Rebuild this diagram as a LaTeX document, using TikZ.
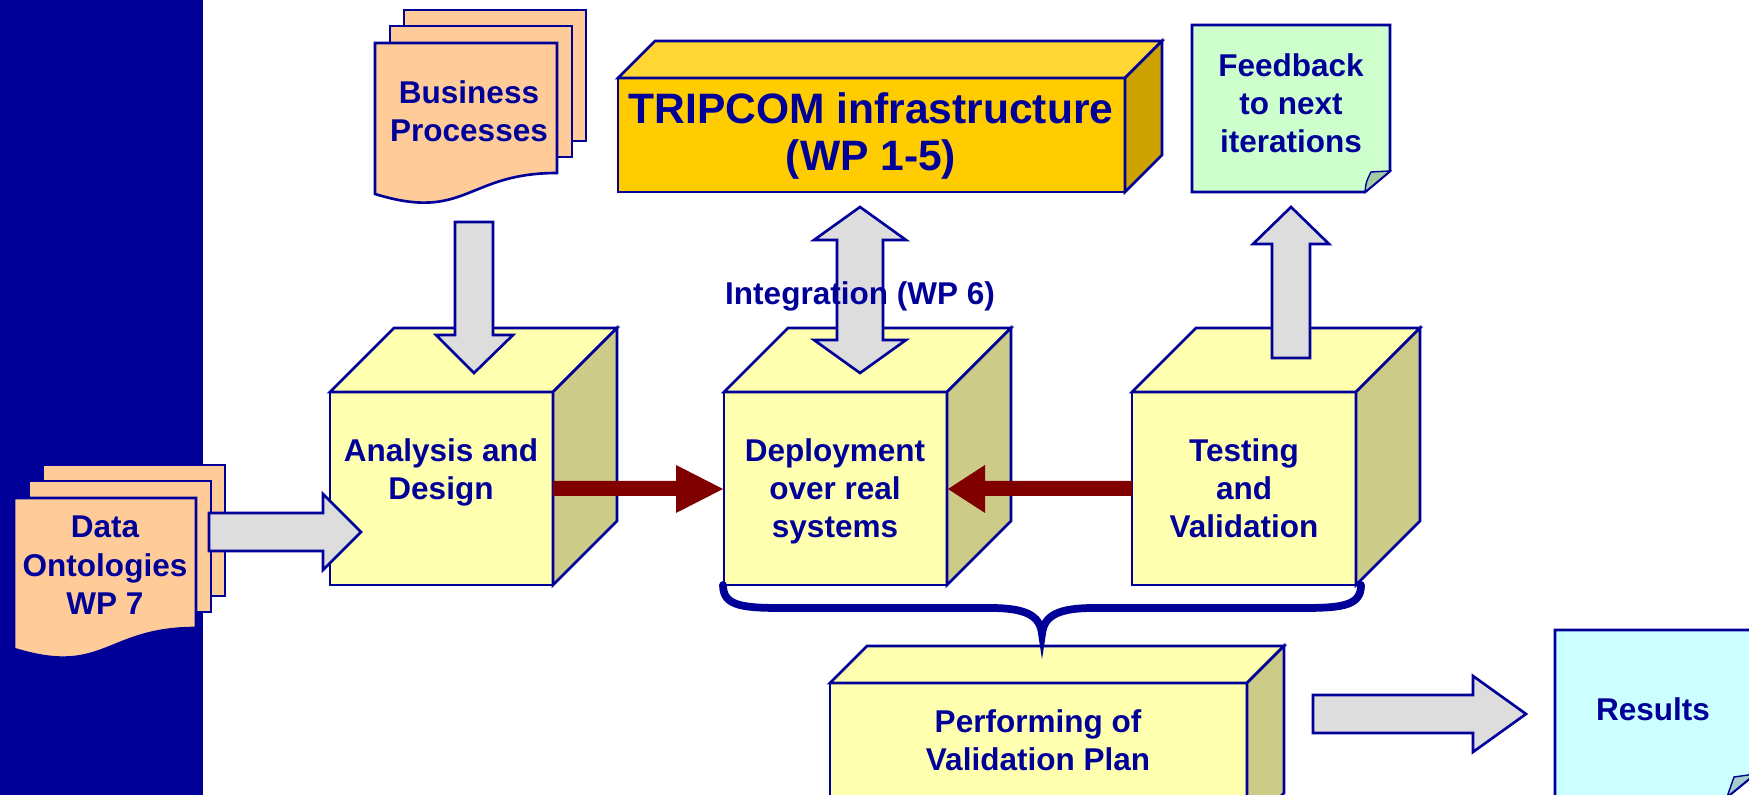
\documentclass[tikz,border=0pt]{standalone}
\usepackage{fontspec}
\setmainfont{Liberation Sans}
\definecolor{bandblue}{RGB}{0,0,153}
\definecolor{faceyellow}{RGB}{255,255,176}
\definecolor{sideyellow}{RGB}{204,204,136}
\definecolor{frontgold}{RGB}{255,204,0}
\definecolor{topgold}{RGB}{255,214,51}
\definecolor{sidegold}{RGB}{204,163,0}
\definecolor{peach}{RGB}{255,204,153}
\definecolor{arrowgrey}{RGB}{221,221,221}
\definecolor{darkred}{RGB}{128,0,0}
\definecolor{notegreen}{RGB}{204,255,204}
\definecolor{foldgreen}{RGB}{163,204,163}
\definecolor{notecyan}{RGB}{204,255,255}
\definecolor{foldcyan}{RGB}{163,204,204}
\newcommand{\solidbox}[8]{%
	\filldraw[fill=#6] (#1,#2) rectangle (#3,#4);
	\filldraw[fill=#7] (#1,#2) -- (#1+#5,#2-#5) -- (#3+#5,#2-#5) -- (#3,#2) -- cycle;
	\filldraw[fill=#8] (#3,#2) -- (#3+#5,#2-#5) -- (#3+#5,#4-#5) -- (#3,#4) -- cycle;}
\newcommand{\docstack}[2]{%
	\filldraw[sheet] (#1+29,#2-33) rectangle (#1+211,#2+98);
	\filldraw[sheet] (#1+15,#2-17) rectangle (#1+197,#2+114);
	\filldraw[sheet] (#1,#2) -- (#1+182,#2) -- (#1+182,#2+130) .. controls (#1+91,#2+130) and (#1+91,#2+179) .. (#1,#2+151) -- cycle;}
\begin{document}
\begin{tikzpicture}[x=0.01cm,y=-0.01cm,line width=0.75pt,color=bandblue,line join=miter,
		sheet/.style={fill=peach},
		blockarr/.style={fill=arrowgrey},
		lbl/.style={font=\bfseries\fontsize{8.96}{10.81}\selectfont,align=center,inner sep=0pt,anchor=north}]
			\useasboundingbox (0,0) rectangle (1749,795);
			\clip (0,0) rectangle (1749,795);
			\fill[bandblue] (0,0) rectangle (203,795);
			\docstack{375}{43}
			\docstack{14}{498}
			\solidbox{618}{78}{1125}{192}{37}{frontgold}{topgold}{sidegold}
			\filldraw[fill=notegreen] (1192,25) -- (1390,25) -- (1390,171) -- (1365,192) -- (1192,192) -- cycle;
			\filldraw[fill=foldgreen,line width=0.4pt] (1365,192) .. controls (1366,182) .. (1371,172) -- (1390,171) -- cycle;
			\solidbox{330}{392}{553}{585}{64}{faceyellow}{faceyellow}{sideyellow}
			\solidbox{724}{392}{947}{585}{64}{faceyellow}{faceyellow}{sideyellow}
			\solidbox{1132}{392}{1356}{585}{64}{faceyellow}{faceyellow}{sideyellow}
			\solidbox{830}{683}{1247}{830}{37}{faceyellow}{faceyellow}{sideyellow}
			\filldraw[fill=notecyan] (1555,630) -- (1765,630) -- (1765,766) -- (1711,810) -- (1555,810) -- cycle;
			\filldraw[fill=foldcyan,line width=0.4pt] (1727,797) -- (1734,777) -- (1755,774) -- cycle;
			\filldraw[blockarr] (209,513) -- (323,513) -- (323,494) -- (361,532) -- (323,570) -- (323,551) -- (209,551) -- cycle;
			\filldraw[blockarr] (455,222) -- (493,222) -- (493,335) -- (513,335) -- (474,373) -- (436,335) -- (455,335) -- cycle;
			\filldraw[blockarr] (860,207) -- (906,240) -- (883,240) -- (883,340) -- (906,340) -- (860,373) -- (814,340) -- (837,340) -- (837,240) -- (814,240) -- cycle;
			\filldraw[blockarr] (1291,207) -- (1329,244) -- (1310,244) -- (1310,358) -- (1272,358) -- (1272,244) -- (1253,244) -- cycle;
			\filldraw[blockarr] (1313,695) -- (1473,695) -- (1473,676) -- (1526,714) -- (1473,752) -- (1473,733) -- (1313,733) -- cycle;
			\fill[darkred] (553,481) -- (676,481) -- (676,465) -- (723,489) -- (676,513) -- (676,496) -- (553,496) -- cycle;
			\fill[darkred] (1132,481) -- (985,481) -- (985,465) -- (948,489) -- (985,513) -- (985,496) -- (1132,496) -- cycle;
			\draw[line width=2.2pt,line cap=round] (723,585) .. controls (723,605) and (740,608) .. (780,608) -- (990,608) .. controls (1025,608) and (1040,615) .. (1042,634) .. controls (1044,615) and (1059,608) .. (1094,608) -- (1304,608) .. controls (1344,608) and (1361,605) .. (1361,585);
			\node[lbl] (business) at (469,79) {Business\\Processes};
			\node[lbl] (data) at (105,515) {Data\\Ontologies\\WP 7};
			\node[lbl,font=\bfseries\fontsize{12.1}{13.5}\selectfont] (tripcom) at (871,91) {TRIPCOM infrastructure\\(WP 1-5)};
			\node[lbl] (feedback) at (1291,52) {Feedback\\to next\\iterations};
			\node[lbl,anchor=base] (integration) at (860,305) {Integration (WP 6)};
			\node[lbl] (analysis) at (441,437) {Analysis and\\Design};
			\node[lbl] (deploy) at (835,437) {Deployment\\over real\\systems};
			\node[lbl] (testing) at (1244,437) {Testing\\and\\Validation};
			\node[lbl] (perform) at (1038,708) {Performing of\\Validation Plan};
			\node[lbl,anchor=base] (results) at (1653,721) {Results};
		\end{tikzpicture}
\end{document}
